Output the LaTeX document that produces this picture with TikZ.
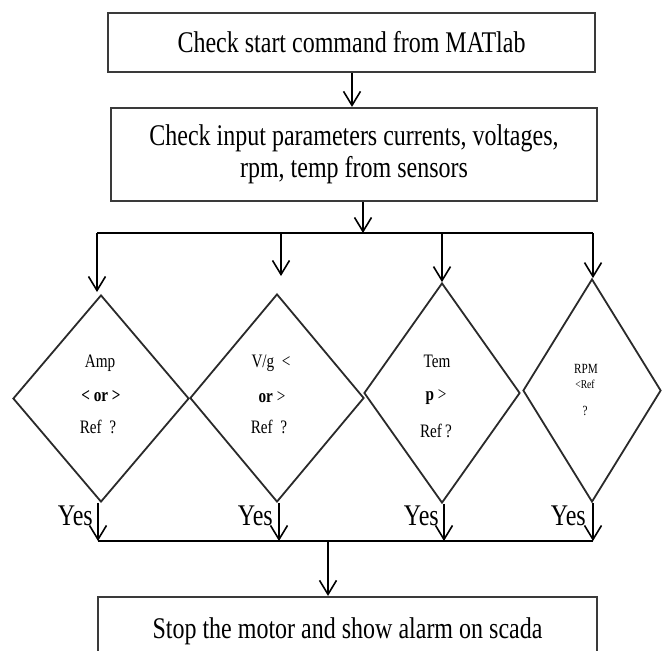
\documentclass[tikz,border=0pt]{standalone}
\usepackage{fontspec}
\setmainfont{Liberation Serif}[FakeStretch=0.8]
\usetikzlibrary{shapes.geometric,arrows.meta}
\definecolor{framegray}{HTML}{3A3A3A}
\definecolor{inkgray}{HTML}{2A2A2A}
\tikzset{
  box/.style={rectangle, draw=framegray, line width=2.2pt, inner sep=0pt,
    align=center, font=\fontsize{30}{32}\selectfont},
  dia/.style={diamond, draw=inkgray, line width=1.8pt, inner sep=0pt},
  flow/.style={draw=black, line width=1.6pt,
    -{Straight Barb[length=14pt,width=17pt,line width=1.6pt]}},
  bus/.style={draw=black, line width=1.6pt},
  big/.style={font=\fontsize{30}{32}\selectfont, inner sep=0pt},
  mid/.style={font=\fontsize{19}{20}\selectfont, inner sep=0pt, anchor=base},
  midb/.style={font=\fontsize{19}{20}\selectfont\bfseries, inner sep=0pt, anchor=base},
  tiny/.style={font=\fontsize{14}{15}\selectfont, inner sep=0pt, anchor=base},
  yeslbl/.style={big, anchor=base east},
}
\begin{document}
\begin{tikzpicture}[x=1pt,y=-1pt]
\useasboundingbox (0,0) rectangle (663,650);
\clip (0,0) rectangle (663,650);

% process boxes
\node[box, minimum width=487pt, minimum height=59pt] (box1) at (351.5,42.5)
  {Check start command from MATlab};
\node[box, minimum width=486pt, minimum height=93pt] (box2) at (354,154.5)
  {Check input parameters currents, voltages,\\rpm, temp from sensors};
\node[box, minimum width=499pt, minimum height=90pt] (box3) at (347.5,642) {};
\node[big, anchor=base] (stoptxt) at (347.5,638) {Stop the motor and show alarm on scada};

% decision diamonds
\node[dia, minimum width=176pt, minimum height=207pt] (d1) at (101,398.5) {};
\node[dia, minimum width=174pt, minimum height=208pt] (d2) at (277,398) {};
\node[dia, minimum width=156pt, minimum height=220pt] (d3) at (442,393) {};
\node[dia, minimum width=138pt, minimum height=223pt] (d4) at (592,390.5) {};

% diamond texts
\node[mid]  (t1a) at (100,367) {Amp};
\node[midb] (t1b) at (101,401) {< or >};
\node[mid]  (t1c) at (98,433)  {Ref\ \ ?};
\node[mid]  (t2a) at (271,367) {V/g\ \ <};
\node[mid]  (t2b) at (272,402) {\textbf{or} >};
\node[mid]  (t2c) at (269,433) {Ref\ \ ?};
\node[mid]  (t3a) at (437,367) {Tem};
\node[mid]  (t3b) at (436,400) {\textbf{p} >};
\node[mid]  (t3c) at (436,437) {Ref\,?};
\node[tiny] (t4a) at (586,373) {RPM};
\node[tiny, font=\fontsize{12}{13}\selectfont] (t4b) at (585,388) {<Ref};
\node[tiny] (t4c) at (585,415) {?};

% distribution bus
\coordinate (tl) at (97,233);
\coordinate (tr) at (593,233);
\coordinate (tj) at (363,233);
\coordinate (tb) at (281,233);
\coordinate (tc) at (442,233);
\coordinate (tip1) at (97,292);
\coordinate (tip2) at (281,276);

\draw[flow] (box1.south -| 352,0) -- (box2.north -| 352,0);
\draw[flow] (box2.south -| tj) -- (tj);
\draw[bus] (tl) -- (tr);
\draw[flow] (tl) -- (tip1);
\draw[flow] (tb) -- (tip2);
\draw[flow] (tc) -- (d3.north);
\draw[flow] (tr) -- (tr |- d4.north);

% collecting bus
\coordinate (bl) at (98,541);
\coordinate (br) at (593,541);
\coordinate (bj) at (328,541);
\draw[flow] (d1.south -| 98,0) -- (bl);
\draw[flow] (d2.south -| 279,0) -- (279,541);
\draw[flow] (d3.south -| 444,0) -- (444,541);
\draw[flow] (d4.south -| 593,0) -- (br);
\draw[bus] (bl) -- (br);
\draw[flow] (bj) -- (bj |- box3.north);

% yes labels
\node[yeslbl] (y1) at (93,525)  {Yes};
\node[yeslbl] (y2) at (273,525) {Yes};
\node[yeslbl] (y3) at (439,525) {Yes};
\node[yeslbl] (y4) at (586,525) {Yes};
\end{tikzpicture}
\end{document}
